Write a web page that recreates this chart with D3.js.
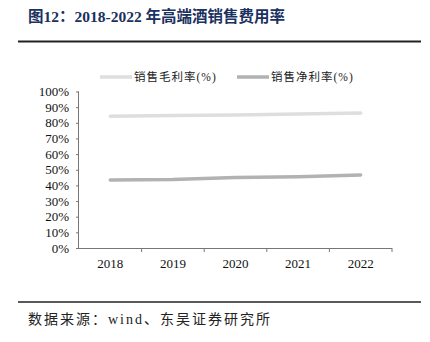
<!DOCTYPE html>
<html>
<head>
<meta charset="utf-8">
<script src="https://cdn.jsdelivr.net/npm/d3@7"></script>
<style>
  html, body { margin: 0; padding: 0; background: #fff; }
  svg { display: block; }
</style>
</head>
<body>
<svg id="chart" width="430" height="342"></svg>
<script>
// Years on the category axis
const years = ["2018", "2019", "2020", "2021", "2022"];
// 销售毛利率 (%)
const grossMargin = [84.2, 84.6, 85.0, 85.6, 86.2];
// 销售净利率 (%)
const netMargin = [43.4, 43.8, 45.1, 45.6, 46.7];
// Y axis ticks
const yTicks = [0, 10, 20, 30, 40, 50, 60, 70, 80, 90, 100];

const seriesList = [
  { name: "销售毛利率(%)", values: grossMargin, color: "#dedede" },
  { name: "销售净利率(%)", values: netMargin, color: "#b2b2b2" }
];

const svg = d3.select("#chart");
const serif = "'Liberation Serif', 'Times New Roman', serif";
const mixed = "'Liberation Serif', 'Noto Sans CJK SC', serif";

// Title and rules
svg.append("text")
  .attr("x", 28).attr("y", 22)
  .attr("font-family", mixed).attr("font-weight", "bold")
  .attr("font-size", 15.5).attr("fill", "#1b3160")
  .text("图12：2018-2022 年高端酒销售费用率");
svg.append("line").attr("x1", 18).attr("x2", 421).attr("y1", 41.5).attr("y2", 41.5)
  .attr("stroke", "#222").attr("stroke-width", 2);
svg.append("line").attr("x1", 18).attr("x2", 421).attr("y1", 302).attr("y2", 302)
  .attr("stroke", "#222").attr("stroke-width", 1.5);
svg.append("text")
  .attr("x", 28).attr("y", 324)
  .attr("font-family", mixed).attr("font-size", 14).attr("fill", "#222")
  .attr("letter-spacing", 2)
  .text("数据来源：wind、东吴证券研究所");

// Scales
const x = d3.scaleBand().domain(years).range([79, 392]);
const y = d3.scaleLinear().domain([0, 100]).range([248, 91.5]);

// Y axis
const yAxis = svg.append("g").attr("transform", "translate(79,0)")
  .call(d3.axisLeft(y).tickValues(yTicks).tickFormat(d => d + "%").tickSize(3).tickPadding(7));
yAxis.select(".domain").attr("stroke", "#777").attr("d", `M-0.5,${y(100)}V${y(0)}`);
yAxis.selectAll(".tick line").attr("stroke", "#777");
yAxis.selectAll("text").attr("font-family", serif).attr("font-size", 13).attr("fill", "#111");

// X axis with ticks at band edges
const xAxis = svg.append("g").attr("transform", "translate(0,248)")
  .call(d3.axisBottom(x).tickSize(0).tickPadding(11));
xAxis.select(".domain").attr("stroke", "#777").attr("d", `M79,0.5H392`);
xAxis.selectAll("text").attr("font-family", serif).attr("font-size", 13).attr("fill", "#111");
xAxis.selectAll(".edge").data(years.map(d => x(d) + x.bandwidth()))
  .enter().append("line").attr("class", "edge")
  .attr("x1", d => d).attr("x2", d => d).attr("y1", 0).attr("y2", 4)
  .attr("stroke", "#777");

// Lines
const line = d3.line()
  .x((d, i) => x(years[i]) + x.bandwidth() / 2)
  .y(d => y(d));
seriesList.forEach(s => {
  svg.append("path").datum(s.values)
    .attr("d", line).attr("fill", "none")
    .attr("stroke", s.color).attr("stroke-width", 3.5)
    .attr("stroke-linecap", "round");
});

// Legend
const legendX = [100, 237];
seriesList.forEach((s, i) => {
  const g = svg.append("g").attr("transform", `translate(${legendX[i]},77)`);
  g.append("line").attr("x1", 0).attr("x2", 32).attr("y1", 0).attr("y2", 0)
    .attr("stroke", s.color).attr("stroke-width", 3.5);
  g.append("text").attr("x", 34).attr("y", 4)
    .attr("font-family", mixed).attr("font-size", 11.5).attr("fill", "#222")
    .attr("letter-spacing", 1)
    .text(s.name);
});
</script>
</body>
</html>
